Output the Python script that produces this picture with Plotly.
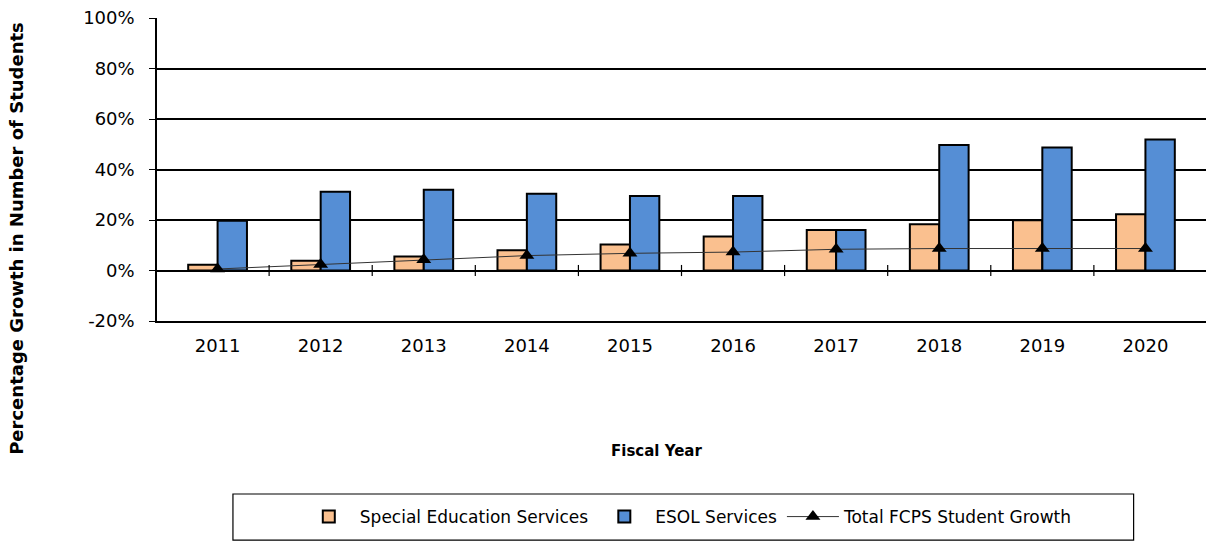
import plotly.graph_objects as go

years = ["2011", "2012", "2013", "2014", "2015", "2016", "2017", "2018", "2019", "2020"]
special_ed = [2.3, 3.9, 5.5, 8.0, 10.3, 13.5, 16.0, 18.3, 19.9, 22.3]
esol = [19.7, 31.2, 32.0, 30.4, 29.5, 29.5, 16.0, 49.7, 48.7, 51.9]
total_growth = [0.6, 2.4, 4.3, 5.9, 6.8, 7.3, 8.4, 8.7, 8.7, 8.7]
y_ticks = [-20, 0, 20, 40, 60, 80, 100]
y_tick_labels = ["-20%", "0%", "20%", "40%", "60%", "80%", "100%"]

FONT = "DejaVu Sans, Arial, sans-serif"

fig = go.Figure()
fig.add_trace(go.Bar(
    x=years, y=special_ed, name="Special Education Services",
    marker=dict(color="#FAC08F", line=dict(color="#000000", width=2)),
))
fig.add_trace(go.Bar(
    x=years, y=esol, name="ESOL Services",
    marker=dict(color="#558ED5", line=dict(color="#000000", width=2)),
))
fig.add_trace(go.Scatter(
    x=years, y=total_growth, name="Total FCPS Student Growth",
    mode="lines+markers",
    line=dict(color="#333333", width=1),
    marker=dict(symbol="triangle-up", size=13, color="#000000"),
))

# small category-boundary ticks crossing the 0% line
for i in range(len(years) - 1):
    fig.add_shape(type="line", xref="x", yref="y",
                  x0=i + 0.5, x1=i + 0.5, y0=-2.2, y1=2.2,
                  line=dict(color="#000000", width=1.2))

# legend frame
fig.add_shape(type="rect", xref="paper", yref="paper",
              x0=0.0724, x1=0.931, y0=-0.723, y1=-0.571,
              line=dict(color="#000000", width=1.2), fillcolor="rgba(0,0,0,0)")

fig.update_layout(
    width=1207, height=542,
    margin=dict(l=157, r=1, t=18, b=221, autoexpand=False),
    paper_bgcolor="white", plot_bgcolor="white",
    barmode="group", bargap=0.43, bargroupgap=0,
    font=dict(family=FONT, size=18, color="#000000"),
    showlegend=True,
    legend=dict(
        orientation="h", x=0.506, xanchor="center", y=-0.647, yanchor="middle",
        borderwidth=0, bgcolor="rgba(0,0,0,0)",
        font=dict(family=FONT, size=17, color="#000000"),
        itemwidth=52, traceorder="normal",
    ),
)
fig.update_xaxes(
    showline=True, linecolor="#000000", linewidth=1.5, mirror=False,
    showgrid=False, ticks="", tickfont=dict(size=18), automargin=False,
    ticklabelstandoff=8,
)
fig.update_yaxes(
    range=[-20, 100], tickvals=y_ticks, ticktext=y_tick_labels,
    showgrid=True, gridcolor="#000000", gridwidth=1.5,
    zeroline=True, zerolinecolor="#000000", zerolinewidth=1.5,
    showline=True, linecolor="#000000", linewidth=1.5,
    ticks="outside", ticklen=6, tickcolor="#000000",
    tickfont=dict(size=18), automargin=False, ticklabelstandoff=11,
)

fig.add_annotation(
    text="<b>Fiscal Year</b>", xref="paper", yref="paper",
    x=0.476, y=-0.429, xanchor="center", yanchor="middle",
    showarrow=False, font=dict(family=FONT, size=15),
)
fig.add_annotation(
    text="<b>Percentage Growth in Number of Students</b>", xref="paper", yref="paper",
    x=-0.1336, y=0.274, xanchor="center", yanchor="middle", textangle=-90,
    showarrow=False, font=dict(family=FONT, size=18),
)

fig.write_html("out.html", config={"displayModeBar": False},
               post_script="document.body.style.margin='0';")
